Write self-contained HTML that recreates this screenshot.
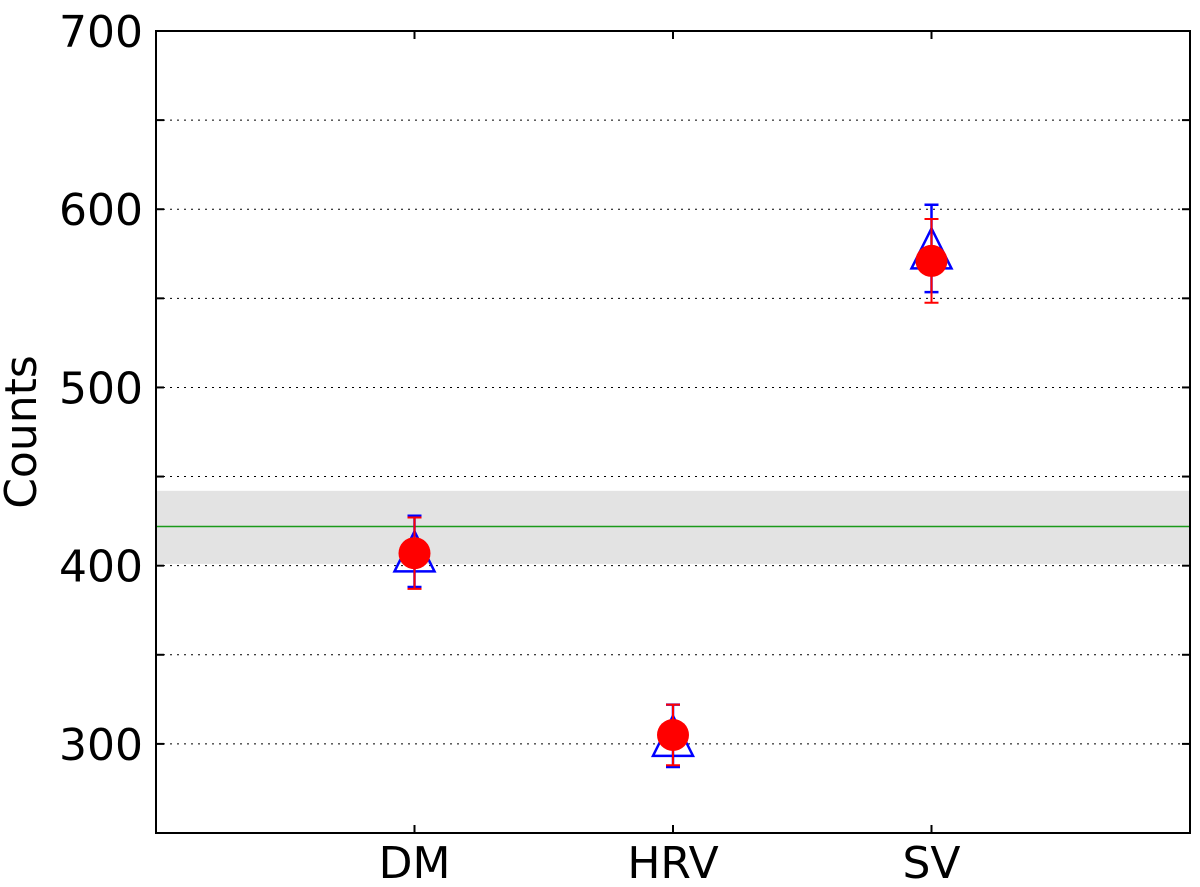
<!DOCTYPE html>
<html><head><meta charset="utf-8"><style>body{margin:0;background:#fff}svg{display:block}</style></head>
<body>
<svg id="chart" width="1200" height="887" xmlns="http://www.w3.org/2000/svg" font-family="'DejaVu Sans','Liberation Sans',sans-serif">
<g id="grid"></g>
<g id="band"></g>
<g id="marks"></g>
<rect x="156" y="31" width="1034" height="802" fill="none" stroke="#000" stroke-width="2"/>
<g id="ticks"></g>
<text transform="translate(36,432) rotate(-90)" text-anchor="middle" font-size="44">Counts</text>
</svg>
<script>
const categories = ["DM","HRV","SV"];
const blueValues = [408, 304.5, 578];
const blueErrors = [20, 17.5, 24.5];
const redValues = [407, 305, 571];
const redErrors = [20, 17, 23.5];
const yTicks = [300, 400, 500, 600, 700];
const gridLines = [300, 350, 400, 450, 500, 550, 600, 650];
const bandLow = 401, bandHigh = 442, bandMid = 422;

const L=156,R=1190,T=31,B=833;
const y = v => B - (v-250)/(700-250)*(B-T);
const x = i => L + (i+1)/4*(R-L);
const NS="http://www.w3.org/2000/svg";
function mk(parent,tag,attrs){const e=document.createElementNS(NS,tag);for(const k in attrs)e.setAttribute(k,attrs[k]);document.getElementById(parent).appendChild(e);return e;}

gridLines.forEach(v=>{
  const e=mk('grid','line',{x1:L,x2:R,y1:y(v),y2:y(v),stroke:'#000','stroke-width':1,'stroke-dasharray':'2,5'});
  
  
  [L,R].forEach(xx=>{
    const t=mk('ticks','line',{x1:xx,x2:xx+(xx===L?8:-8),y1:y(v),y2:y(v),stroke:'#000','stroke-width':2});
    
    
  });
});
yTicks.forEach(v=>{
  const t=mk('ticks','text',{x:143,y:y(v)+16,'text-anchor':'end','font-size':44});
  t.textContent=v;
  
  
});
categories.forEach((c,i)=>{
  const t=mk('ticks','text',{x:x(i),y:878,'text-anchor':'middle','font-size':44});
  t.textContent=c;
  
  
  [B,T].forEach(yy=>{
    const k=mk('ticks','line',{x1:x(i),x2:x(i),y1:yy,y2:yy+(yy===B?-8:8),stroke:'#000','stroke-width':2});
    
    
  });
});
const band=mk('band','rect',{x:L,y:y(bandHigh),width:R-L,height:y(bandLow)-y(bandHigh),fill:'#e3e3e3'});


const ml=mk('band','line',{x1:L,x2:R,y1:y(bandMid),y2:y(bandMid),stroke:'#1a9a1a','stroke-width':1.5});



categories.forEach((c,i)=>{
  const cx=x(i);
  // blue triangle + errorbar
  const by=y(blueValues[i]);
  const tri=mk('marks','polygon',{points:`${cx},${by-20} ${cx-20},${by+20} ${cx+20},${by+20}`,fill:'none',stroke:'#0000ff','stroke-width':2.5});
  
  
  const t1=y(blueValues[i]+blueErrors[i]),b1=y(blueValues[i]-blueErrors[i]);
  const eb=mk('marks','path',{d:`M${cx},${t1}V${b1}M${cx-7},${t1}H${cx+7}M${cx-7},${b1}H${cx+7}`,stroke:'#0000ff','stroke-width':2.5,fill:'none'});
  
  
  // red circle + errorbar
  const ry=y(redValues[i]);
  const t2=y(redValues[i]+redErrors[i]),b2=y(redValues[i]-redErrors[i]);
  const er=mk('marks','path',{d:`M${cx},${t2}V${b2}M${cx-7},${t2}H${cx+7}M${cx-7},${b2}H${cx+7}`,stroke:'#ff0000','stroke-width':2,fill:'none'});
  
  
  const ci=mk('marks','circle',{cx:cx,cy:ry,r:16,fill:'#ff0000'});
  
  
});
</script>
</body></html>
